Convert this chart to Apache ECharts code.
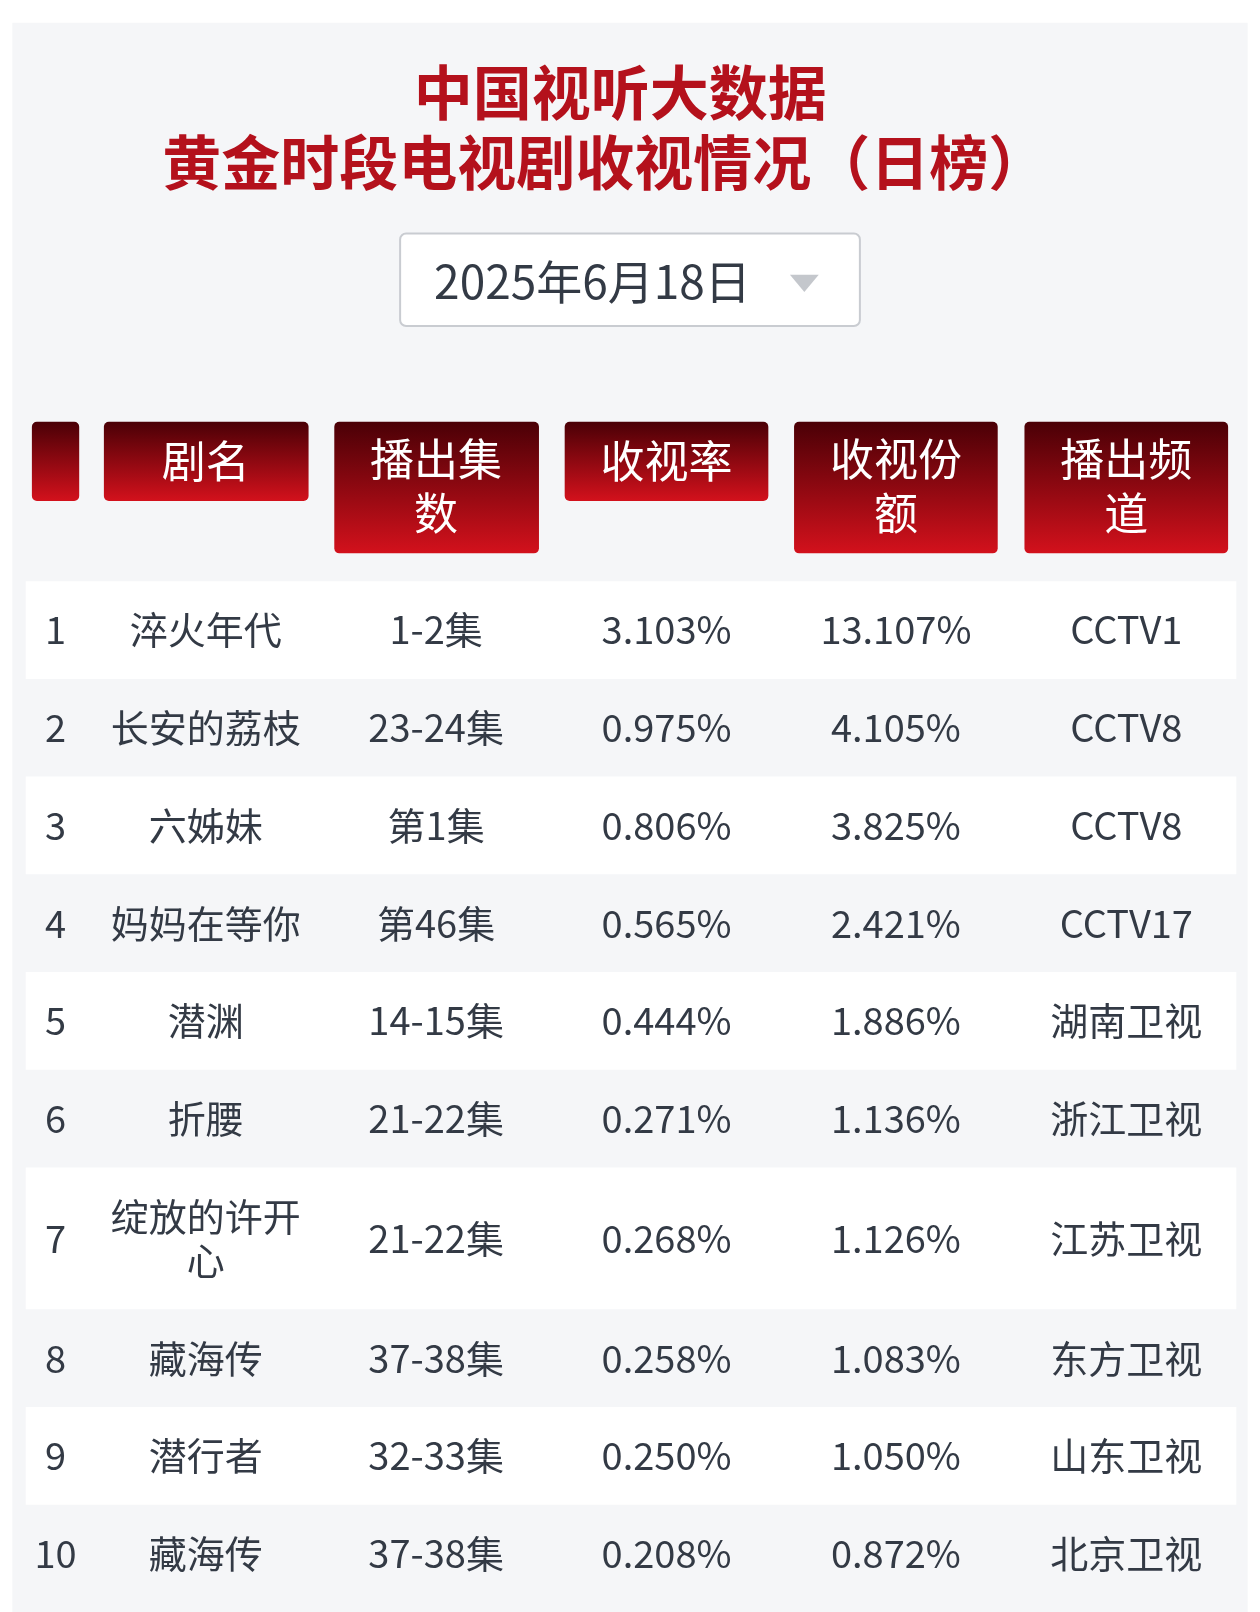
<!DOCTYPE html>
<html><head><meta charset="utf-8">
<script src="https://cdn.jsdelivr.net/npm/echarts@6/dist/echarts.min.js"></script>
<style>html,body{margin:0;padding:0;background:#fff}#c{width:1260px;height:1612px}</style>
</head><body><div id="c"></div>
<script>
const titleLines = ['中国视听大数据', '黄金时段电视剧收视情况（日榜）'];
const dateLabel = '2025年6月18日';
const headers = ['', '剧名', '播出集数', '收视率', '收视份额', '播出频道'];
const ranks = ['1','2','3','4','5','6','7','8','9','10'];
const names = ['淬火年代','长安的荔枝','六姊妹','妈妈在等你','潜渊','折腰','绽放的许开心','藏海传','潜行者','藏海传'];
const episodes = ['1-2集','23-24集','第1集','第46集','14-15集','21-22集','21-22集','37-38集','32-33集','37-38集'];
const ratings = ['3.103%','0.975%','0.806%','0.565%','0.444%','0.271%','0.268%','0.258%','0.250%','0.208%'];
const shares = ['13.107%','4.105%','3.825%','2.421%','1.886%','1.136%','1.126%','1.083%','1.050%','0.872%'];
const channels = ['CCTV1','CCTV8','CCTV8','CCTV17','湖南卫视','浙江卫视','江苏卫视','东方卫视','山东卫视','北京卫视'];
const rowUnits = [1,1,1,1,1,1,1.45,1,1,1];

const S = 1260/1225;
const FONT = '"Noto Sans CJK SC","Noto Sans",sans-serif';
const colCenters = [54,200,424,648,871,1095].map(v=>v*S);
const colBoxes = [[31,77],[101,300],[325,524],[549,747],[772,970],[996,1194]].map(b=>[b[0]*S,b[1]*S]);
let starts = [], acc = 0;
rowUnits.forEach(u => { starts.push(acc); acc += u; });
const total = acc;
const data = ranks.map((r,i)=>[i, starts[i], starts[i]+rowUnits[i]]);

const graphics = [
  {type:'rect', shape:{x:12*S,y:22*S,width:1201*S,height:1600}, style:{fill:'#f5f6f8'}, z:-10},
  {type:'text', style:{text:titleLines[0], x:603*S, y:90*S, align:'center', verticalAlign:'middle', font:'bold 59px '+FONT, fill:'#b4111c'}},
  {type:'text', style:{text:titleLines[1], x:588*S, y:158*S, align:'center', verticalAlign:'middle', font:'bold 59px '+FONT, fill:'#b4111c'}},
  {type:'rect', shape:{x:389*S,y:227*S,width:447*S,height:90*S,r:6}, style:{fill:'#fff', stroke:'#c9ccd1', lineWidth:2}},
  {type:'text', style:{text:dateLabel, x:576*S, y:274*S, align:'center', verticalAlign:'middle', font:'46px '+FONT, fill:'#333a45'}},
  {type:'polygon', shape:{points:[[768*S,267*S],[796*S,267*S],[782*S,284*S]]}, style:{fill:'#c4c7cc'}}
];
headers.forEach((h,i)=>{
  const two = h.length>3;
  const b = colBoxes[i];
  graphics.push({type:'rect', shape:{x:b[0],y:410*S,width:b[1]-b[0],height:(two?128:77)*S,r:5},
    style:{fill:new echarts.graphic.LinearGradient(0,0,0,1,[{offset:0,color:'#4a0006'},{offset:1,color:'#d3111c'}])}});
  if (h) {
    const t = two ? h.slice(0,3)+'\n'+h.slice(3) : h;
    graphics.push({type:'text', style:{text:t, x:colCenters[i], y:(two?473:448)*S, align:'center', verticalAlign:'middle',
      font:'44px '+FONT, fill:'#fff', lineHeight:52*S}});
  }
});

const chart = echarts.init(document.getElementById('c'));
chart.setOption({
  animation:false,
  graphic: graphics,
  grid:{left:25*S, right:1260-1202*S, top:565*S, height:993*S},
  xAxis:{type:'value', min:0, max:1, show:false},
  yAxis:{type:'value', min:0, max:total, inverse:true, show:false},
  series:[{
    type:'custom',
    data: data,
    renderItem(params, api){
      const i = api.value(0);
      const p0 = api.coord([0, api.value(1)]);
      const p1 = api.coord([1, api.value(2)]);
      const cy = (p0[1]+p1[1])/2;
      const cells = [ranks[i], names[i], episodes[i], ratings[i], shares[i], channels[i]];
      const children = [];
      if (i % 2 === 0) children.push({type:'rect', shape:{x:p0[0], y:p0[1], width:p1[0]-p0[0], height:p1[1]-p0[1]}, style:{fill:'#fff'}});
      cells.forEach((c,k)=>{
        children.push({type:'text', style:{text:c, x:colCenters[k], y:cy, align:'center', verticalAlign:'middle',
          font:'38px '+FONT, fill:'#333a45', width:k===1?200:undefined, overflow:k===1?'break':undefined, lineHeight:44}});
      });
      return {type:'group', children};
    }
  }]
});
</script></body></html>
